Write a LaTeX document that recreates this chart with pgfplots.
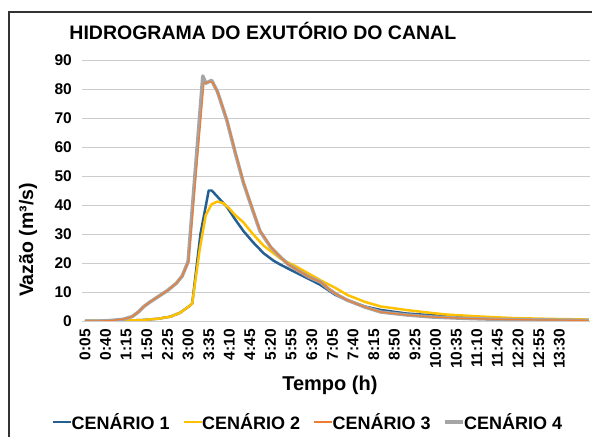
\documentclass[border=0pt]{standalone}
\usepackage{fontspec}
\setmainfont{Liberation Sans}
\usepackage{pgfplots}
\pgfplotsset{compat=1.18}
\definecolor{c1}{HTML}{255E91}
\definecolor{c2}{HTML}{FFC000}
\definecolor{c3}{HTML}{ED7D31}
\definecolor{c4}{HTML}{A5A5A5}
\definecolor{gridc}{HTML}{CCCCCC}
\begin{document}
\begin{tikzpicture}
\useasboundingbox (0,0) rectangle (592bp,437bp);
\draw[line width=1.2pt, black!80] (9bp,0) -- (9bp,425bp) -- (592bp,425bp);
\begin{axis}[
  at={(82bp,116bp)}, anchor=south west,
  scale only axis, width=508bp, height=261bp,
  xmin=0, xmax=862, ymin=0, ymax=90,
  ytick={0,10,...,90},
  xtick={5,40,...,810},
  xticklabels={0:05,0:40,1:15,1:50,2:25,3:00,3:35,4:10,4:45,5:20,5:55,6:30,7:05,7:40,8:15,8:50,9:25,10:00,10:35,11:10,11:45,12:20,12:55,13:30},
  /pgf/number format/assume math mode=true,
  font=\fontsize{15bp}{18bp}\selectfont\bfseries,
  ticklabel style={font=\fontsize{15.5bp}{18bp}\selectfont\bfseries},
  xticklabel style={rotate=90, anchor=east, inner sep=0pt},
  yticklabel style={anchor=east, inner sep=0pt},
  xticklabel shift=8bp, yticklabel shift=10bp,
  major tick length=0pt,
  axis line style={draw=none},
  axis x line*=bottom, axis y line*=left,
  ymajorgrids, grid style={gridc, line width=1pt},
  title={HIDROGRAMA DO EXUTÓRIO DO CANAL},
  title style={font=\fontsize{19.5bp}{22bp}\selectfont\bfseries, at={(axis description cs:0.356,1.088)}, anchor=center},
  xlabel={Tempo (h)},
  xlabel style={font=\fontsize{20bp}{23bp}\selectfont\bfseries, at={(axis description cs:0.488,-0.245)}, anchor=center},
  ylabel={Vazão (m³/s)},
  ylabel style={font=\fontsize{19.5bp}{22bp}\selectfont\bfseries, at={(axis description cs:-0.106,0.31)}, anchor=center, rotate=0},
  legend columns=4,
  legend style={draw=none, fill=none, font=\fontsize{18bp}{21bp}\selectfont\bfseries,
    at={(axis description cs:0.445,-0.387)}, anchor=center, inner sep=0pt,
    /tikz/every even column/.append style={column sep=11bp},
    /tikz/every odd column/.append style={column sep=-3bp}},
  legend image code/.code={\draw[#1] (0bp,0bp) -- (18bp,0bp);},
  line join=round,
]
\draw[gridc, line width=1pt] (axis cs:0,0) -- (axis cs:862,0);
\addplot[c1, line width=2.5pt] coordinates {
(5,0) (60,0.1) (100,0.3) (130,0.8) (150,1.5) (166,2.8) (180,4.8) (187,6) (201,30) (215,45) (220,45) (227,43.5) (236,41.5) (246,39.3) (260,35) (274,31) (290,27.2) (308,23.4) (325,20.8) (337,19.4) (365,16.5) (385,14.5) (405,12.4) (430,9) (450,7.2) (480,5) (507,3.8) (550,2.6) (592,2) (650,1.3) (700,0.9) (750,0.6) (800,0.4) (860,0.3)
};
\addlegendentry{CENÁRIO 1}
\addplot[c2, line width=2.5pt] coordinates {
(5,0) (60,0.1) (100,0.3) (130,0.8) (150,1.5) (166,2.8) (180,4.8) (187,6) (200,25) (210,36.5) (220,40.3) (230,41.2) (240,40.6) (250,38.8) (260,36.5) (274,34) (290,30) (308,26) (337,21.5) (365,18.6) (405,14) (430,11.4) (450,9) (480,6.6) (507,5) (550,3.8) (592,2.8) (620,2.2) (680,1.5) (733,1) (800,0.7) (860,0.5)
};
\addlegendentry{CENÁRIO 2}
\addlegendimage{c3, line width=2.5pt}
\addlegendentry{CENÁRIO 3}
\addplot[c4, line width=3.5pt] coordinates {
(5,0) (30,0) (50,0.2) (70,0.6) (85,1.5) (95,3) (105,5) (115,6.5) (130,8.5) (145,10.5) (160,13) (170,15.5) (180,20.5) (205,84.5) (210,82) (220,83) (230,79) (246,69) (260,58) (274,47.6) (290,38) (302,31) (320,25.5) (337,22) (350,19.5) (365,17.6) (385,15.2) (405,13.4) (420,10.8) (435,8.8) (450,7.2) (480,4.8) (507,3.1) (550,2.1) (592,1.4) (650,0.9) (700,0.6) (760,0.4) (820,0.3) (860,0.2)
};
\addlegendentry{CENÁRIO 4}
\addplot[c3, line width=1.2pt, forget plot] coordinates {
(5,0) (30,0) (50,0.2) (70,0.6) (85,1.5) (95,3) (105,5) (115,6.5) (130,8.5) (145,10.5) (160,13) (170,15.5) (181,20.5) (207,82) (215,82.5) (222,82.3) (232,78) (246,69.5) (260,58.5) (274,48) (290,38.3) (302,31.3) (320,25.7) (337,22) (350,19.5) (365,17.6) (385,15.2) (405,13.4) (420,10.8) (435,8.8) (450,7.2) (480,4.8) (507,3.1) (550,2.1) (592,1.4) (650,0.9) (700,0.6) (760,0.4) (820,0.3) (860,0.2)
};
\end{axis}
\end{tikzpicture}
\end{document}
